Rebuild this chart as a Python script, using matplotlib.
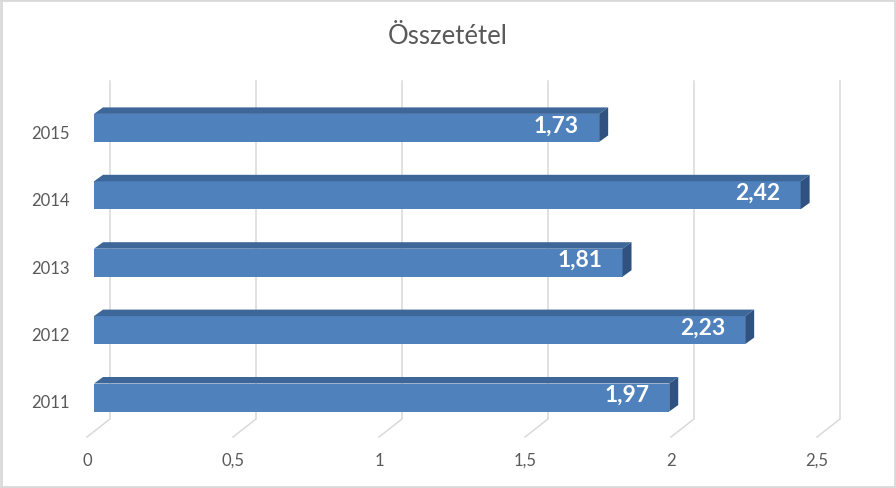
import numpy as np
import matplotlib.pyplot as plt
from matplotlib.patches import Polygon, Rectangle

# data
years = ["2011", "2012", "2013", "2014", "2015"]
values = [1.97, 2.23, 1.81, 2.42, 1.73]
ticks = [0, 0.5, 1, 1.5, 2, 2.5]
tick_labels = ["0", "0,5", "1", "1,5", "2", "2,5"]
title = "Összetétel"

plt.rcParams['font.family'] = ['Lato', 'DejaVu Sans']
grey = "#595959"
grid_c = "#d9d9d9"
front_c = "#4f81bd"
top_c = "#3d6699"
side_c = "#2f5280"

W, H = 896, 489
fig = plt.figure(figsize=(W / 100, H / 100), dpi=100)
ax = fig.add_axes([0, 0, 1, 1])

# scale: pixels per unit on both axes (oblique 3d look)
px_x = 292.0          # px per value unit
px_y = 67.4           # px per category
x0_px = 94.0          # bar front face zero
y0_px = 398.5         # centre of first category
ax.set_xlim(-x0_px / px_x, (W - x0_px) / px_x)
ax.set_ylim((y0_px - H) / px_y, y0_px / px_y)
ax.axis("off")

def dx(p):
    return p / px_x

def dy(p):
    return p / px_y

# back wall gridlines + floor diagonals
y_top = dy(y0_px - 82)
y_back = dy(y0_px - 420)
y_front = dy(y0_px - 438)
for t, lab in zip(ticks, tick_labels):
    xb = t + dx(16)
    xf = t + dx(-7)
    ax.plot([xb, xb, xf], [y_top, y_back, y_front], color=grid_c, lw=1.1,
            solid_joinstyle="miter", zorder=1)
    ax.text(xf, dy(y0_px - 461), lab, ha="center", va="center",
            fontsize=12, color=grey)

# bars
ypos = np.arange(len(years))
h = dy(28)
ox, oy = dx(9), dy(6.5)
ax.barh(ypos, values, height=h, left=0, color=front_c, zorder=3)
for y, v in zip(ypos, values):
    top = [(0, y + h / 2), (v, y + h / 2), (v + ox, y + h / 2 + oy), (ox, y + h / 2 + oy)]
    side = [(v, y - h / 2), (v, y + h / 2), (v + ox, y + h / 2 + oy), (v + ox, y - h / 2 + oy)]
    ax.add_patch(Polygon(top, closed=True, color=top_c, zorder=3, lw=0))
    ax.add_patch(Polygon(side, closed=True, color=side_c, zorder=3, lw=0))
    ax.text(v - dx(20), y + dy(3), f"{v:.2f}".replace(".", ","), ha="right", va="center",
            fontsize=16.5, fontweight="bold", color="white", zorder=4)
    ax.text(dx(70 - x0_px), y - dy(5), years[y], ha="right", va="center",
            fontsize=12, color=grey)

fig.text(0.5, 1 - 37 / H, title, ha="center", va="center", fontsize=18.5, color=grey)
fig.patches.append(Rectangle((0.001, 0.002), 0.998, 0.996, transform=fig.transFigure,
                             fill=False, edgecolor=grid_c, lw=2))

fig.savefig("out.png", dpi=100)
